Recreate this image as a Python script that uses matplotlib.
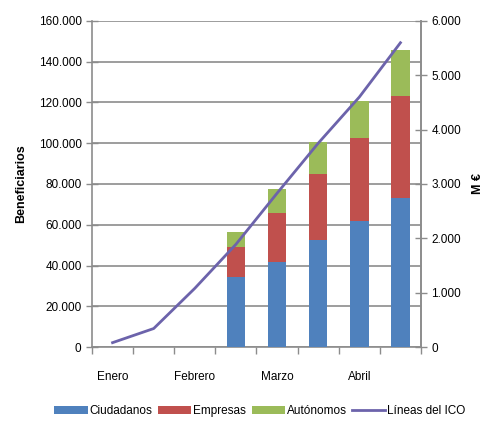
import matplotlib
matplotlib.use("Agg")
import matplotlib.pyplot as plt
from matplotlib.ticker import FuncFormatter, FixedLocator
from matplotlib import font_manager
import numpy as np

names = {f.name for f in font_manager.fontManager.ttflist}
narrow = 'Liberation Sans Narrow' if 'Liberation Sans Narrow' in names else 'Liberation Sans'
plt.rcParams['font.family'] = [narrow, 'DejaVu Sans']
fs = 10.5 if narrow == 'Liberation Sans Narrow' else 8.5

# Data
categories = ["Enero", "", "Febrero", "", "Marzo", "", "Abril", ""]
bar_positions = [3, 4, 5, 6, 7]
ciudadanos = [34200, 41700, 52500, 61700, 73300]
empresas = [15000, 24200, 32400, 40900, 50000]
autonomos = [7400, 11500, 15900, 18300, 22400]
lineas_ico = [80, 340, 1080, 1890, 2830, 3750, 4600, 5600]

c_blue = "#4F81BD"
c_red = "#C0504D"
c_green = "#9BBB59"
c_line = "#6C63AB"
grid_c = "#8C8C8C"

fig = plt.figure(figsize=(4.85, 4.22), dpi=100)
ax = fig.add_axes([92/485, 1-347/422, (421-92)/485, (347-21)/422])

x_all = np.arange(len(categories))
w = 0.45
bottom2 = np.array(ciudadanos)
bottom3 = bottom2 + np.array(empresas)
ax.bar(bar_positions, ciudadanos, w, color=c_blue, label="Ciudadanos", zorder=3)
ax.bar(bar_positions, empresas, w, bottom=bottom2, color=c_red, label="Empresas", zorder=3)
ax.bar(bar_positions, autonomos, w, bottom=bottom3, color=c_green, label="Autónomos", zorder=3)

ax.set_xlim(-0.5, len(categories) - 0.5)
ax.set_ylim(0, 160000)
ax.set_yticks(np.arange(0, 160001, 20000))
fmt = FuncFormatter(lambda v, p: f"{int(v):,}".replace(",", "."))
ax.yaxis.set_major_formatter(fmt)
ax.yaxis.grid(True, color=grid_c, linewidth=1.2, zorder=0)
ax.set_axisbelow(True)

# x ticks: marks at boundaries, labels at centers
ax.xaxis.set_major_locator(FixedLocator(np.arange(-0.5, len(categories), 1.0)))
ax.xaxis.set_major_formatter(FuncFormatter(lambda v, p: ""))
ax.set_xticks(x_all, minor=True)
ax.set_xticklabels(categories, minor=True)
ax.tick_params(axis='x', which='major', direction='out', length=5, color=grid_c, width=1)
ax.tick_params(axis='x', which='minor', length=0, pad=17, labelsize=fs)
ax.tick_params(axis='y', direction='inout', length=9, color=grid_c, width=1, labelsize=fs, pad=3)

ax.spines['top'].set_visible(False)
for s in ['left', 'bottom', 'right']:
    ax.spines[s].set_color(grid_c)
    ax.spines[s].set_linewidth(1.2)

ax.set_ylabel("Beneficiarios", fontsize=fs + 0.5, fontweight='bold', labelpad=8)

ax2 = ax.twinx()
ax2.plot(x_all, lineas_ico, color=c_line, linewidth=2, label="Líneas del ICO", zorder=4)
ax2.set_ylim(0, 6000)
ax2.set_yticks(np.arange(0, 6001, 1000))
ax2.yaxis.set_major_formatter(fmt)
ax2.tick_params(axis='y', direction='inout', length=9, color=grid_c, width=1, labelsize=fs, pad=3)
for s in ['top', 'left', 'bottom']:
    ax2.spines[s].set_visible(False)
ax2.spines['right'].set_color(grid_c)
ax2.spines['right'].set_linewidth(1.2)
ax2.set_ylabel("M €", fontsize=fs + 0.5, fontweight='bold', rotation=90, labelpad=8)

h1, l1 = ax.get_legend_handles_labels()
h2, l2 = ax2.get_legend_handles_labels()
fig.legend(h1 + h2, l1 + l2, loc='center', bbox_to_anchor=(260/485, 1-411/422),
           ncol=4, frameon=False, fontsize=fs, handlelength=2.8, handleheight=0.6,
           handletextpad=0.15, columnspacing=0.5)

fig.savefig("out.png", dpi=100)
